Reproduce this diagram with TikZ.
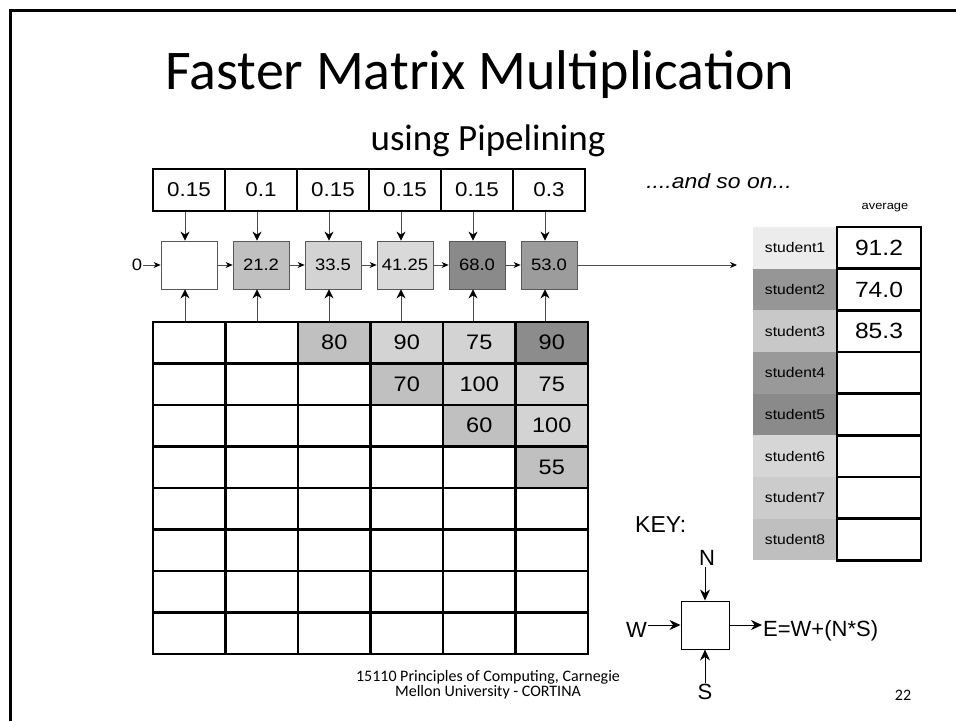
\documentclass[tikz,border=0pt]{standalone}
\usepackage{fontspec}
\setmainfont{Carlito}
\newfontfamily\dfont[FakeStretch=1.12]{Liberation Sans}
\newfontfamily\kfont{Liberation Sans}
\usetikzlibrary{arrows.meta}
\definecolor{cA}{HTML}{C0C0C0}
\definecolor{cB}{HTML}{D3D3D3}
\definecolor{cC}{HTML}{8C8C8C}
\definecolor{cD}{HTML}{D9D9D9}
\definecolor{cE}{HTML}{8A8A8A}
\definecolor{cF}{HTML}{9C9C9C}
\definecolor{sA}{HTML}{ECECEC}
\definecolor{sB}{HTML}{969696}
\definecolor{sC}{HTML}{C8C8C8}
\definecolor{sD}{HTML}{999999}
\definecolor{sE}{HTML}{8A8A8A}
\definecolor{sF}{HTML}{D6D6D6}
\definecolor{sG}{HTML}{CCCCCC}
\definecolor{sH}{HTML}{BFBFBF}
\tikzset{
  wbox/.style={draw, line width=2.5pt, minimum width=72pt, minimum height=42pt, inner sep=0pt, font=\dfont\fontsize{20}{24}\selectfont},
  proc/.style={draw=black!65, line width=0.8pt, minimum width=56pt, minimum height=48pt, inner sep=0pt, font=\dfont\fontsize{16.5}{20}\selectfont},
  cell/.style={draw, line width=2.5pt, minimum width=72.5pt, minimum height=41.5pt, inner sep=0pt, font=\dfont\fontsize{21}{24}\selectfont},
  slabel/.style={minimum width=84pt, minimum height=41.7pt, inner sep=0pt, font=\dfont\fontsize{14}{16}\selectfont},
  sval/.style={draw, line width=2.5pt, minimum width=84pt, minimum height=41.7pt, inner sep=0pt, font=\dfont\fontsize{22}{26}\selectfont},
  vtip/.tip={Stealth[length=9pt,width=9pt,color=black]},
  htip/.tip={Stealth[length=7pt,width=6pt,color=black]},
  keytip/.tip={Stealth[length=11pt,width=10pt]},
  vflow/.style={draw=black!70, line width=0.8pt, arrows={-vtip}},
  hflow/.style={draw=black!70, line width=0.8pt, arrows={-htip}},
  keyarr/.style={draw, line width=1pt, arrows={-keytip}},
  keytext/.style={font=\kfont\fontsize{22}{26}\selectfont, inner sep=1pt}
}
\begin{document}
\begin{tikzpicture}[x=1pt,y=-1pt]
\useasboundingbox (0,0) rectangle (956,721);
% slide border
\draw[line width=2.5pt] (10.5,721) -- (10.5,10.5) -- (956,10.5);

% title
\node[anchor=base, font=\fontsize{56}{60}\selectfont, inner sep=0pt] (title) at (480,89) {Faster Matrix Multiplication};
\node[anchor=base, font=\fontsize{37}{40}\selectfont, inner sep=0pt] (sub) at (488,150) {using Pipelining};

% weights
\foreach \i/\w in {0/0.15,1/0.1,2/0.15,3/0.15,4/0.15,5/0.3}
  \node[wbox] (w\i) at ({189+72*\i},190) {\w};

% processors
\foreach \i/\f/\t in {0/white/{},1/cA/21.2,2/cB/33.5,3/cD/41.25,4/cE/68.0,5/cF/53.0}
  \node[proc, fill=\f] (p\i) at ({189+72*\i},265) {\t};

% grid
\foreach \r/\c/\f/\t in {0/0/white/{},0/1/white/{},0/2/cA/80,0/3/cB/90,0/4/cB/75,0/5/cC/90,
  1/0/white/{},1/1/white/{},1/2/white/{},1/3/cA/70,1/4/cB/100,1/5/cB/75,
  2/0/white/{},2/1/white/{},2/2/white/{},2/3/white/{},2/4/cA/60,2/5/cB/100,
  3/0/white/{},3/1/white/{},3/2/white/{},3/3/white/{},3/4/white/{},3/5/cA/55}
  \node[cell, fill=\f] (g\r\c) at ({153+72.5*(\c+0.5)},{322+41.5*(\r+0.5)}) {\t};
\foreach \r in {4,...,7}
  \foreach \c in {0,...,5}
    \node[cell] (g\r\c) at ({153+72.5*(\c+0.5)},{322+41.5*(\r+0.5)}) {};

% vertical arrows
\foreach \i in {0,...,5}{
  \coordinate (ax\i) at ({185+72*\i},0);
  \draw[vflow] (ax\i |- w\i.south) -- (ax\i |- p\i.north);
  \draw[vflow] (ax\i |- g0\i.north) -- (ax\i |- p\i.south);
}

% horizontal flow
\node[font=\dfont\fontsize{16.5}{20}\selectfont, inner sep=1pt] (zero) at (137,265) {0};
\draw[hflow] (zero) -- (p0);
\foreach \i/\j in {0/1,1/2,2/3,3/4,4/5}
  \draw[hflow] (p\i) -- (p\j);
\coordinate (out) at (737,265);
\draw[hflow] (p5) -- (out);

% and so on
\node[font=\dfont\itshape\fontsize{20.5}{24}\selectfont] (more) at (719,181) {....and so on...};

% students
\node[font=\dfont\fontsize{11.5}{14}\selectfont] (avg) at (885,208) {average};
\foreach \j/\f/\s/\v in {0/sA/student1/91.2,1/sB/student2/74.0,2/sC/student3/85.3,3/sD/student4/{},4/sE/student5/{},5/sF/student6/{},6/sG/student7/{},7/sH/student8/{}}{
  \node[slabel, fill=\f] (s\j) at (795,{227+41.67*(\j+0.5)}) {\s};
  \node[sval] (v\j) at (879,{227+41.67*(\j+0.5)}) {\v};
}

% key
\node[font=\kfont\fontsize{23}{26}\selectfont, anchor=west, inner sep=0pt] (key) at (635,525) {KEY:};
\node[draw, line width=1pt, minimum width=48pt, minimum height=48pt, inner sep=0pt] (kb) at (705,625) {};
\node[keytext] (kn) at (707,558) {N};
\node[keytext] (ks) at (705,692) {S};
\node[keytext, anchor=east] (kw) at (648,630) {W};
\node[keytext, anchor=west] (ke) at (762,631) {E=W+(N*S)};
\draw[keyarr] (kn.south -| kb) -- (kb.north);
\draw[keyarr] (ks.north -| kb) -- (kb.south);
\draw[keyarr] (kw.east |- kb) -- (kb.west);
\draw[keyarr] (kb.east) -- (ke.west |- kb);

% footer
\node[align=center, font=\fontsize{16}{13}\selectfont] (foot) at (488,685) {15110 Principles of Computing, Carnegie\\Mellon University - CORTINA};
\node[font=\fontsize{16}{18}\selectfont] (pg) at (903,695) {22};
\end{tikzpicture}
\end{document}
